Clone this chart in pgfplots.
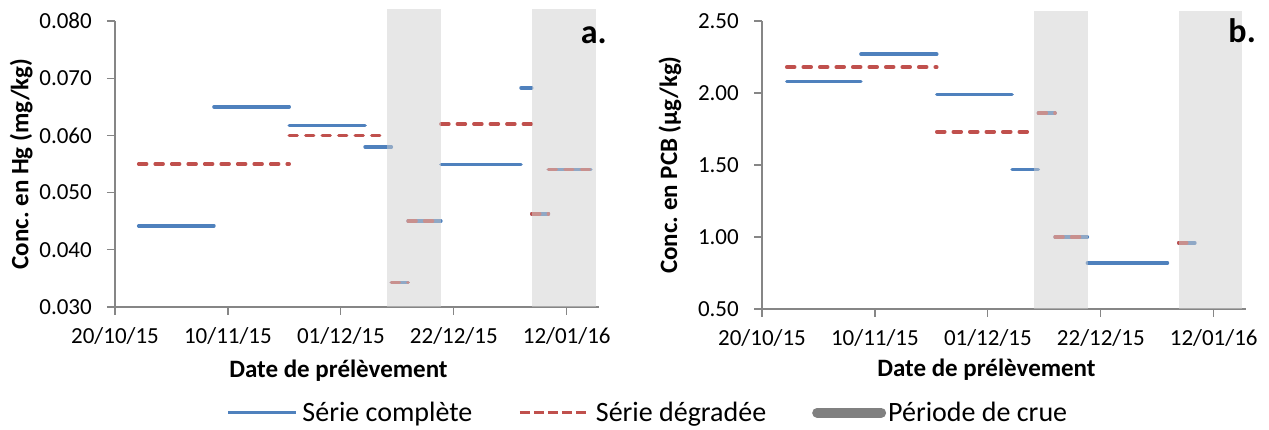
\documentclass[border=0pt]{standalone}
\usepackage{fontspec}
\setmainfont{Carlito}
\usepackage{pgfplots}
\pgfplotsset{compat=1.18}
\definecolor{serieblue}{HTML}{4F81BD}
\definecolor{seriered}{HTML}{C0504D}
\definecolor{axisgrey}{HTML}{868686}
\definecolor{bandgrey}{HTML}{D0D0D0}
\definecolor{cruegrey}{HTML}{808080}
\frenchspacing

\pgfplotsset{
  panel/.style={
    scale only axis, width=484pt,
    xmin=0, xmax=90,
    axis x line*=bottom, axis y line*=left,
    axis line style={-, axisgrey, line width=1.2pt},
    every tick/.style={axisgrey, line width=1.2pt},
    tick align=outside, major tick length=8pt,
    minor tick num=0,
    scaled y ticks=false,
    xtick={0,21,42,63,84},
    xticklabels={20/10/15,10/11/15,01/12/15,22/12/15,12/01/16},
    ticklabel style={font=\fontsize{23}{23}\selectfont, text=black, inner sep=0pt},
    /pgf/number format/assume math mode=true,
    xticklabel style={anchor=base, yshift=-29pt},
    yticklabel style={anchor=east, xshift=-15pt},
    label style={font=\bfseries\fontsize{25}{25}\selectfont, text=black, inner sep=0pt},
    clip=false,
  },
  complete/.style={serieblue, line width=3.5pt, line cap=round},
  degraded/.style={seriered, line width=3.5pt, line cap=round, dash pattern=on 8pt off 8.5pt},
  crue/.style={draw=none, fill=bandgrey, fill opacity=0.5},
}

\begin{document}
\begin{tikzpicture}
\useasboundingbox (0,0) rectangle (1269pt,430pt);

% ---------- a. mercure ----------
\begin{axis}[panel,
  at={(115pt,123pt)}, anchor=south west, height=286pt,
  ymin=0.030, ymax=0.080, ytick={0.03,0.04,0.05,0.06,0.07,0.08},
  yticklabel style={/pgf/number format/fixed, /pgf/number format/fixed zerofill,
    /pgf/number format/precision=3},
  xlabel={Date de prélèvement},
  xlabel style={at={(axis description cs:0.4618,-0.2448)}, anchor=base},
  ylabel={Conc. en Hg (mg/kg)},
  ylabel style={at={(axis description cs:-0.194,0.5)}, anchor=center, rotate=0},
  legend style={at={(axis description cs:0.2314,-0.3696)}, anchor=west,
    draw=none, fill=none, inner sep=0pt, outer sep=0pt,
    legend columns=3, column sep=0pt,
    nodes={inner sep=0pt, font=\fontsize{28}{28}\selectfont},
    /tikz/every even column/.append style={column sep=46pt}},
  legend cell align=left,
]
% serie complete
\addplot[complete, forget plot] coordinates {
  (4.4,0.0442) (18.4,0.0442)};
\addplot[complete, forget plot] coordinates {
  (18.4,0.0650) (32.4,0.0650)};
\addplot[complete, forget plot] coordinates {
  (32.4,0.0617) (46.5,0.0617)};
\addplot[complete, forget plot] coordinates {
  (46.5,0.0580) (51.4,0.0580)};
\addplot[complete, forget plot] coordinates {
  (51.4,0.0343) (54.5,0.0343)};
\addplot[complete, forget plot] coordinates {
  (54.5,0.0450) (60.6,0.0450)};
\addplot[complete, forget plot] coordinates {
  (60.6,0.0549) (75.5,0.0549)};
\addplot[complete, forget plot] coordinates {
  (75.5,0.0683) (77.5,0.0683)};
\addplot[complete, forget plot] coordinates {
  (77.5,0.0463) (80.6,0.0463)};
\addplot[complete, forget plot] coordinates {
  (80.6,0.0540) (88.5,0.0540)};
% serie degradee
\addplot[degraded, forget plot] coordinates {
  (4.4,0.0550) (32.4,0.0550)};
\addplot[degraded, forget plot] coordinates {
  (32.4,0.0600) (50.3,0.0600)};
\addplot[degraded, forget plot] coordinates {
  (51.4,0.0343) (54.5,0.0343)};
\addplot[degraded, forget plot] coordinates {
  (54.5,0.0450) (60.6,0.0450)};
\addplot[degraded, forget plot] coordinates {
  (60.6,0.0620) (77.5,0.0620)};
\addplot[degraded, forget plot] coordinates {
  (77.5,0.0463) (80.6,0.0463)};
\addplot[degraded, forget plot] coordinates {
  (80.6,0.0540) (88.5,0.0540)};
% periodes de crue
\addplot[crue, forget plot] coordinates {
  (50.6,0.030) (50.6,0.0821) (60.6,0.0821) (60.6,0.030)} -- cycle;
\addplot[crue, forget plot] coordinates {
  (77.6,0.030) (77.6,0.0821) (89.4,0.0821) (89.4,0.030)} -- cycle;

\node[font=\bfseries\fontsize{34}{34}\selectfont, anchor=base east, inner sep=0pt]
  at (axis description cs:1.0165,0.923) {a.};

\addlegendimage{legend image code/.code={
  \path[draw=none, fill=none] (0pt,-5pt) rectangle (74pt,5pt);
  \draw[serieblue, line width=3pt] (0pt,0pt) -- (68pt,0pt);}}
\addlegendentry{Série complète}
\addlegendimage{legend image code/.code={
  \path[draw=none, fill=none] (0pt,-5pt) rectangle (76pt,5pt);
  \draw[seriered, line width=3pt, dash pattern=on 10pt off 4pt] (0pt,0pt) -- (66pt,0pt);}}
\addlegendentry{Série dégradée}
\addlegendimage{legend image code/.code={
  \path[draw=none, fill=none] (0pt,-5pt) rectangle (76pt,5pt);
  \draw[cruegrey, line width=10pt, line cap=round] (5pt,0pt) -- (69pt,0pt);}}
\addlegendentry{Période de crue}
\end{axis}

% ---------- b. PCB ----------
\begin{axis}[panel,
  at={(762pt,121pt)}, anchor=south west, height=288pt,
  ymin=0.5, ymax=2.5, ytick={0.5,1.0,1.5,2.0,2.5},
  yticklabel style={/pgf/number format/fixed, /pgf/number format/fixed zerofill,
    /pgf/number format/precision=2},
  xlabel={Date de prélèvement},
  xlabel style={at={(axis description cs:0.4638,-0.2361)}, anchor=base},
  ylabel={Conc. en PCB (µg/kg)},
  ylabel style={at={(axis description cs:-0.190,0.5)}, anchor=center, rotate=0},
]
% serie complete
\addplot[complete] coordinates {
  (4.6,2.08) (18.4,2.08)};
\addplot[complete] coordinates {
  (18.4,2.27) (32.5,2.27)};
\addplot[complete] coordinates {
  (32.5,1.99) (46.5,1.99)};
\addplot[complete] coordinates {
  (46.5,1.47) (51.4,1.47)};
\addplot[complete] coordinates {
  (51.4,1.86) (54.5,1.86)};
\addplot[complete] coordinates {
  (54.5,1.00) (60.5,1.00)};
\addplot[complete] coordinates {
  (60.5,0.82) (75.4,0.82)};
\addplot[complete] coordinates {
  (77.5,0.96) (80.5,0.96)};
% serie degradee
\addplot[degraded] coordinates {
  (4.6,2.18) (32.5,2.18)};
\addplot[degraded] coordinates {
  (32.5,1.73) (50.3,1.73)};
\addplot[degraded] coordinates {
  (51.4,1.86) (54.5,1.86)};
\addplot[degraded] coordinates {
  (54.5,1.00) (60.5,1.00)};
\addplot[degraded] coordinates {
  (77.5,0.96) (80.5,0.96)};
% periodes de crue
\addplot[crue] coordinates {
  (50.6,0.5) (50.6,2.569) (60.6,2.569) (60.6,0.5)} -- cycle;
\addplot[crue] coordinates {
  (77.6,0.5) (77.6,2.569) (89.3,2.569) (89.3,0.5)} -- cycle;

\node[font=\bfseries\fontsize{34}{34}\selectfont, anchor=base east, inner sep=0pt]
  at (axis description cs:1.0207,0.9236) {b.};
\end{axis}
\end{tikzpicture}
\end{document}
